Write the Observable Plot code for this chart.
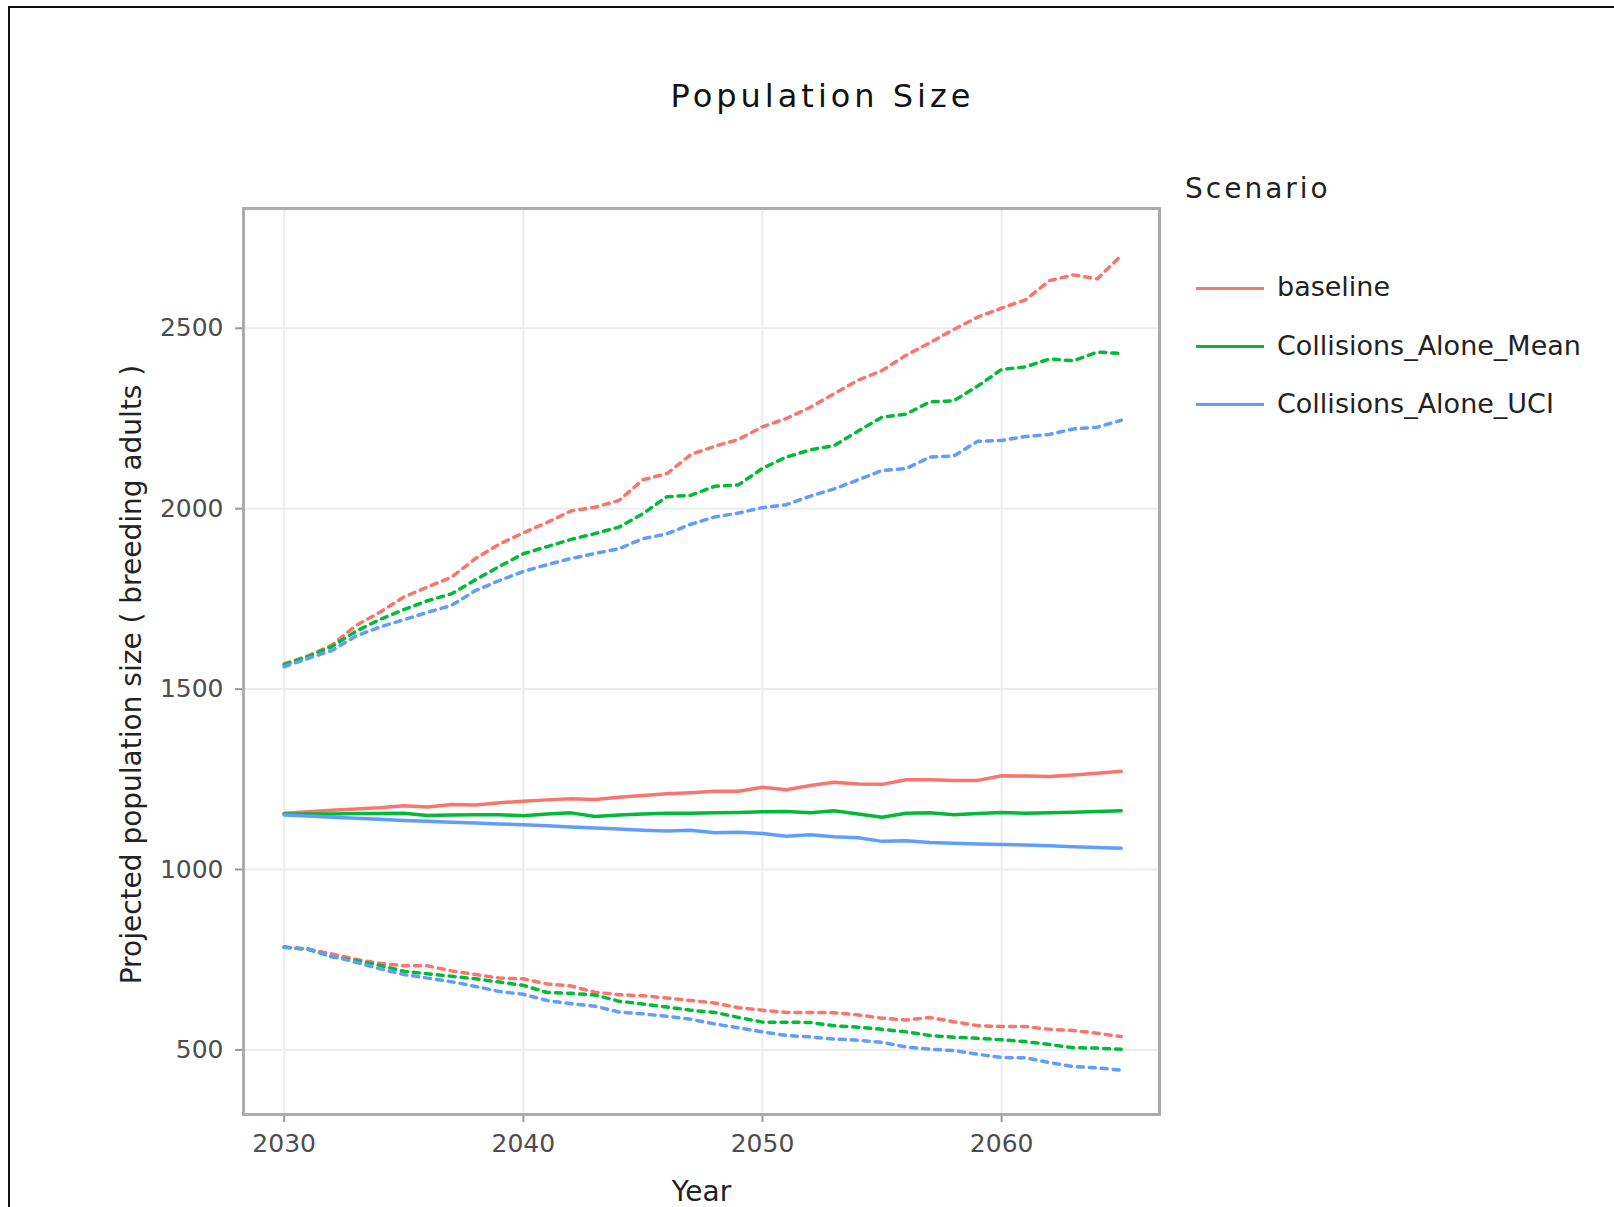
<!DOCTYPE html>
<html>
<head>
<meta charset="utf-8">
<script src="https://cdn.jsdelivr.net/npm/d3@7"></script>
<script src="https://cdn.jsdelivr.net/npm/@observablehq/plot@0.6"></script>
<style>
  html, body { margin: 0; padding: 0; background: #fff; overflow: hidden; }
  body { width: 1614px; height: 1207px; position: relative; font-family: "DejaVu Sans", sans-serif; }
  #edge { position: absolute; left: 8px; top: 6px; width: 1700px; height: 1300px; z-index: 2;
          border-left: 2px solid #111; border-top: 2px solid #111; pointer-events: none; }
  #title { position: absolute; left: 0; top: 80px; width: 1645px; text-align: center;
           font-size: 32px; line-height: 32px; letter-spacing: 4px; color: #111; }
  #chart { position: absolute; left: 0; top: 130px; }
  #legend-title { position: absolute; left: 1185px; top: 175px; font-size: 28px; line-height: 28px;
                  letter-spacing: 3px; color: #222; }
  .key { position: absolute; left: 1196px; width: 68px; height: 3px; }
  .key-label { position: absolute; left: 1277px; font-size: 27px; line-height: 27px; color: #222; white-space: nowrap; }
</style>
</head>
<body>
<div id="title">Population Size</div>
<div id="chart"></div>
<div id="legend-title">Scenario</div>
<div id="legend"></div>
<div id="edge"></div>
<script>
// Projected population size, 2030–2065, for three scenarios:
// mean trajectory plus lower and upper bounds for each.
const years = [2030, 2031, 2032, 2033, 2034, 2035, 2036, 2037, 2038, 2039,
               2040, 2041, 2042, 2043, 2044, 2045, 2046, 2047, 2048, 2049,
               2050, 2051, 2052, 2053, 2054, 2055, 2056, 2057, 2058, 2059,
               2060, 2061, 2062, 2063, 2064, 2065];

const scenarios = ["baseline", "Collisions_Alone_Mean", "Collisions_Alone_UCI"];
const colours = ["#F8766D", "#00BA38", "#619CFF"];

const baselineMean = [1156, 1160, 1164, 1168, 1171, 1177, 1173, 1180, 1179, 1185,
                      1189, 1193, 1196, 1194, 1200, 1205, 1210, 1213, 1217, 1217,
                      1228, 1221, 1233, 1242, 1237, 1236, 1249, 1249, 1247, 1247,
                      1260, 1259, 1258, 1262, 1267, 1272];
const baselineUpper = [1570, 1592, 1622, 1676, 1713, 1755, 1783, 1810, 1862, 1902,
                       1933, 1962, 1994, 2004, 2023, 2080, 2097, 2150, 2173, 2192,
                       2227, 2250, 2281, 2319, 2356, 2383, 2425, 2460, 2497, 2531,
                       2556, 2579, 2632, 2648, 2637, 2702];
const baselineLower = [785, 779, 766, 751, 740, 733, 733, 719, 709, 699,
                       697, 683, 677, 660, 653, 650, 644, 637, 630, 617,
                       610, 604, 604, 603, 597, 588, 583, 590, 578, 567,
                       565, 565, 557, 554, 546, 537];

const collisionMean = [1154, 1154, 1154, 1155, 1155, 1156, 1150, 1151, 1152, 1152,
                       1149, 1154, 1157, 1147, 1151, 1154, 1156, 1156, 1157, 1158,
                       1160, 1161, 1157, 1163, 1154, 1145, 1156, 1157, 1152, 1155,
                       1158, 1156, 1157, 1159, 1161, 1163];
const collisionUpper = [1568, 1590, 1618, 1660, 1693, 1720, 1745, 1764, 1803, 1840,
                        1875, 1895, 1915, 1931, 1949, 1986, 2033, 2037, 2062, 2066,
                        2112, 2143, 2163, 2175, 2215, 2254, 2262, 2296, 2299, 2340,
                        2386, 2393, 2415, 2410, 2434, 2430];
const collisionLower = [785, 779, 758, 747, 734, 718, 711, 704, 697, 688,
                        679, 659, 657, 652, 635, 627, 619, 610, 604, 590,
                        577, 577, 576, 567, 563, 557, 550, 540, 535, 532,
                        528, 523, 515, 506, 505, 502];

const uciMean = [1151, 1148, 1145, 1142, 1139, 1136, 1134, 1131, 1129, 1126,
                 1124, 1121, 1118, 1115, 1112, 1109, 1107, 1109, 1102, 1103,
                 1100, 1092, 1096, 1091, 1088, 1078, 1080, 1075, 1073, 1071,
                 1069, 1068, 1066, 1063, 1061, 1059];
const uciUpper = [1562, 1585, 1607, 1647, 1672, 1692, 1713, 1732, 1773, 1801,
                  1826, 1845, 1862, 1876, 1889, 1917, 1930, 1957, 1977, 1988,
                  2003, 2011, 2035, 2055, 2080, 2106, 2111, 2143, 2146, 2187,
                  2189, 2200, 2206, 2221, 2226, 2245];
const uciLower = [784, 780, 760, 743, 725, 709, 699, 689, 676, 662,
                  654, 637, 628, 621, 605, 600, 593, 585, 572, 561,
                  550, 540, 536, 530, 527, 521, 508, 502, 498, 488,
                  479, 478, 465, 454, 450, 444];

const xTicks = [2030, 2040, 2050, 2060];
const yTicks = [500, 1000, 1500, 2000, 2500];
const xTitle = "Year";
const yTitle = "Projected population size ( breeding adults )";

// Long-format rows for the library
const means = [baselineMean, collisionMean, uciMean];
const bounds = [[baselineLower, baselineUpper], [collisionLower, collisionUpper], [uciLower, uciUpper]];

const meanRows = scenarios.flatMap((s, i) =>
  years.map((year, j) => ({scenario: s, year, value: means[i][j]})));
const boundRows = scenarios.flatMap((s, i) =>
  ["lower", "upper"].flatMap((b, k) =>
    years.map((year, j) => ({scenario: s, series: s + "-" + b, year, value: bounds[i][k][j]}))));

const svgWidth = 1180, svgHeight = 1077, svgTop = 130;
const chart = Plot.plot({
  width: svgWidth,
  height: svgHeight,
  marginLeft: 243,
  marginRight: svgWidth - 1159,
  marginTop: 208 - svgTop,
  marginBottom: svgHeight - (1114 - svgTop),
  x: {domain: [2028.3, 2066.6]},
  y: {domain: [321, 2832]},
  color: {domain: scenarios, range: colours},
  style: {fontFamily: "DejaVu Sans, sans-serif", fontSize: "25px", color: "#4d4d4d",
          background: "transparent", overflow: "visible"},
  marks: [
    Plot.gridX(xTicks, {stroke: "#ececec", strokeOpacity: 1, strokeWidth: 2}),
    Plot.gridY(yTicks, {stroke: "#ececec", strokeOpacity: 1, strokeWidth: 2}),
    Plot.axisX(xTicks, {tickSize: 8, tickPadding: 12, stroke: "#9a9a9a", strokeWidth: 2,
                        fill: "#4d4d4d", label: null, tickFormat: d3.format("d")}),
    Plot.axisY(yTicks, {tickSize: 8, tickPadding: 12, stroke: "#9a9a9a", strokeWidth: 2,
                        fill: "#4d4d4d", label: null, tickFormat: d3.format("d")}),
    Plot.line(boundRows, {x: "year", y: "value", z: "series", stroke: "scenario",
                          strokeWidth: 3.5, strokeDasharray: "6,6"}),
    Plot.line(meanRows, {x: "year", y: "value", z: "scenario", stroke: "scenario",
                         strokeWidth: 3.5}),
    Plot.frame({stroke: "#acacac", strokeWidth: 3}),
    Plot.text([xTitle], {text: d => d, frameAnchor: "bottom", lineAnchor: "middle",
                         textAnchor: "middle", dy: 78, fontSize: 28, fill: "#222", letterSpacing: 2}),
    Plot.text([yTitle], {text: d => d, frameAnchor: "left", rotate: -90, textAnchor: "middle",
                         lineAnchor: "middle", dx: -111, dy: 13, fontSize: 28, fill: "#222"})
  ]
});
document.getElementById("chart").appendChild(chart);

// Legend: one key per scenario
const legend = document.getElementById("legend");
scenarios.forEach((s, i) => {
  const cy = 288 + i * 58.3;
  const key = document.createElement("div");
  key.className = "key";
  key.style.top = (cy - 1.5) + "px";
  key.style.background = colours[i];
  legend.appendChild(key);
  const label = document.createElement("div");
  label.className = "key-label";
  label.style.top = (cy + 8 - 22.8) + "px";
  label.textContent = s;
  legend.appendChild(label);
});
</script>
</body>
</html>
